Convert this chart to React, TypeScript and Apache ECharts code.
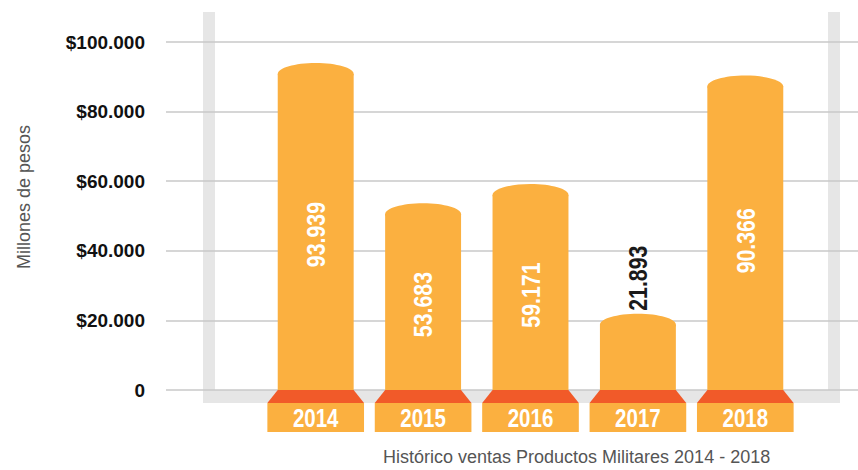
import React, { useEffect, useRef } from "react";
import * as echarts from "echarts";

const categories = ["2014", "2015", "2016", "2017", "2018"];
const values = [93939, 53683, 59171, 21893, 90366];
const yMin = 0;
const yMax = 100000;
const yInterval = 20000;
const axisName = "Millones de pesos";
const chartTitle = "Histórico ventas Productos Militares 2014 - 2018";

const ORANGE = "#FBB040";
const RED = "#F15A29";
const FRAME = "#E6E6E6";
const SANS = "'Liberation Sans', Arial, sans-serif";
const NARROW_SCALE = 0.82;

const fmt = (v: number) => String(v).replace(/\B(?=(\d{3})+(?!\d))/g, ".");

export default function App() {
  const ref = useRef<HTMLDivElement>(null);
  useEffect(() => {
    if (!ref.current) return;
    const chart = echarts.init(ref.current, undefined, { renderer: "svg" });
    const option: any = {
      animation: false,
      backgroundColor: "#ffffff",
      grid: [
        { left: 166, right: 0, top: 42, bottom: 80 },
        { left: 262, right: 59, top: 42, bottom: 80 },
      ],
      xAxis: [
        { gridIndex: 0, type: "category", data: [""], show: false },
        { gridIndex: 1, type: "category", data: categories, show: false },
      ],
      yAxis: [
        {
          gridIndex: 0,
          type: "value",
          min: yMin,
          max: yMax,
          interval: yInterval,
          axisLine: { show: false },
          axisTick: { show: false },
          axisLabel: {
            margin: 21,
            color: "#111111",
            fontFamily: SANS,
            fontWeight: "bold",
            fontSize: 19,
            formatter: (v: number) => (v === 0 ? "0" : "$" + fmt(v)),
          },
          splitLine: { lineStyle: { color: "#C9C9C9", width: 1.5 } },
        },
        { gridIndex: 1, type: "value", min: yMin, max: yMax, interval: yInterval, show: false },
      ],
      graphic: [
        { type: "rect", z: -1, shape: { x: 203, y: 12, width: 12, height: 391 }, style: { fill: FRAME } },
        { type: "rect", z: -1, shape: { x: 828, y: 12, width: 12, height: 391 }, style: { fill: FRAME } },
        { type: "rect", z: -1, shape: { x: 203, y: 390, width: 637, height: 13 }, style: { fill: FRAME } },
        {
          type: "text",
          x: 24,
          y: 197,
          rotation: Math.PI / 2,
          style: {
            text: axisName,
            fill: "#555555",
            font: "18px " + SANS,
            align: "center",
            verticalAlign: "middle",
          },
        },
        {
          type: "text",
          x: 383,
          y: 457,
          style: {
            text: chartTitle,
            fill: "#555555",
            font: "18px " + SANS,
            align: "left",
            verticalAlign: "middle",
          },
        },
      ],
      series: [
        {
          type: "custom",
          xAxisIndex: 1,
          yAxisIndex: 1,
          z: 5,
          data: values.map((v, i) => [i, v]),
          encode: { x: 0, y: 1 },
          renderItem: (params: any, api: any) => {
            const i = api.value(0);
            const v = api.value(1);
            const top = api.coord([i, v]);
            const base = api.coord([i, 0]);
            const band = api.size([1, 0])[0];
            const w = band * 0.707;
            const bw = band * 0.9;
            const cx = base[0];
            const h = 11;
            const bodyH = base[1] - top[1];
            const inside = bodyH > 100;
            return {
              type: "group",
              children: [
                {
                  type: "ellipse",
                  shape: { cx, cy: top[1] + h, rx: w / 2, ry: h },
                  style: { fill: ORANGE },
                },
                {
                  type: "rect",
                  shape: { x: cx - w / 2, y: top[1] + h, width: w, height: base[1] - top[1] - h },
                  style: { fill: ORANGE },
                },
                {
                  type: "polygon",
                  shape: {
                    points: [
                      [cx - w / 2, base[1]],
                      [cx + w / 2, base[1]],
                      [cx + bw / 2, base[1] + 13],
                      [cx - bw / 2, base[1] + 13],
                    ],
                  },
                  style: { fill: RED },
                },
                {
                  type: "rect",
                  shape: { x: cx - bw / 2, y: base[1] + 13, width: bw, height: 29 },
                  style: { fill: ORANGE },
                },
                {
                  type: "text",
                  x: cx,
                  y: base[1] + 28,
                  scaleX: NARROW_SCALE,
                  style: {
                    text: categories[i],
                    fill: "#ffffff",
                    font: "bold 25px " + SANS,
                    align: "center",
                    verticalAlign: "middle",
                  },
                },
                {
                  type: "text",
                  x: cx,
                  y: inside ? (top[1] + base[1]) / 2 + 8 : top[1] - 3,
                  rotation: Math.PI / 2,
                  scaleX: NARROW_SCALE,
                  style: {
                    text: fmt(v),
                    fill: inside ? "#ffffff" : "#1a1a1a",
                    font: "bold 26px " + SANS,
                    align: inside ? "center" : "left",
                    verticalAlign: "middle",
                  },
                },
              ],
            };
          },
        },
      ],
    };
    chart.setOption(option);
    return () => chart.dispose();
  }, []);
  return (
    <div
      ref={ref}
      style={{ position: "fixed", left: 0, top: 0, width: 858, height: 470 }}
    />
  );
}
